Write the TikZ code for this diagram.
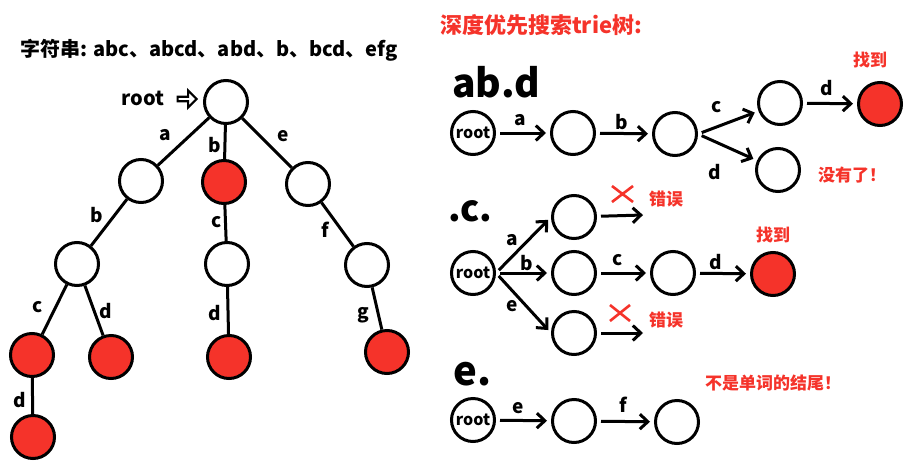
\documentclass[tikz,border=0pt]{standalone}
\usepackage{fontspec}
\setmainfont{Noto Sans CJK SC}
\usetikzlibrary{arrows.meta,shapes.arrows}
\definecolor{TrieRed}{HTML}{F5332A}

\begin{document}
\begin{tikzpicture}[x=1pt,y=-1pt,
    trienode/.style={circle,draw=black,line width=3pt,minimum size=43pt,inner sep=0pt,fill=white},
    wordend/.style={trienode,fill=TrieRed},
    lbl/.style={font=\bfseries\fontsize{19}{19}\selectfont,inner sep=0pt},
    note/.style={font=\bfseries\fontsize{17}{17}\selectfont,text=TrieRed,inner sep=0pt},
    link/.style={line width=3pt},
    walk/.style={line width=3pt,-{Straight Barb[length=8pt,width=15pt]},shorten >=4pt,shorten <=4pt},
    cross/.style={line width=2.6pt,draw=TrieRed}]
\useasboundingbox (0,0) rectangle (908,469);

% Words in the trie
\node[anchor=west,inner sep=0pt,font=\bfseries\fontsize{20}{20}\selectfont] (words) at (20,50) {字符串: abc、abcd、abd、b、bcd、efg};

% Root of the trie
\node[trienode] (root) at (226,102) {};
\node[inner sep=0pt,font=\bfseries\fontsize{20}{20}\selectfont] (roottag) at (143,98) {root};
\node[single arrow,draw,line width=2.2pt,minimum height=19pt,minimum width=17pt,single arrow head extend=3pt,inner sep=0pt] (rootarrow) at (186,99) {};

% Tree nodes
\node[trienode] (ta) at (141,181) {};
\node[wordend] (tb) at (224,182) {};
\node[trienode] (te) at (308,184) {};
\node[trienode] (tab) at (77,264) {};
\node[trienode] (tbc) at (227,264) {};
\node[trienode] (tef) at (367,265) {};
\node[wordend] (tabc) at (32,355) {};
\node[wordend] (tabd) at (111,357) {};
\node[wordend] (tbcd) at (229,357) {};
\node[wordend] (tefg) at (387,352) {};
\node[wordend] (tabcd) at (33,437) {};

% Tree edges
\draw[link] (root) -- (ta);
\draw[link] (root) -- (tb);
\draw[link] (root) -- (te);
\draw[link] (ta) -- (tab);
\draw[link] (tb) -- (tbc);
\draw[link] (te) -- (tef);
\draw[link] (tab) -- (tabc);
\draw[link] (tab) -- (tabd);
\draw[link] (tbc) -- (tbcd);
\draw[link] (tef) -- (tefg);
\draw[link] (tabc) -- (tabcd);

% Edge letters
\node[lbl] (la) at (165,135) {a};
\node[lbl] (lb) at (215,145) {b};
\node[lbl] (le) at (283,136) {e};
\node[lbl] (lab) at (97,215) {b};
\node[lbl] (lbc) at (217,222) {c};
\node[lbl] (lef) at (325,230) {f};
\node[lbl] (labc) at (38,307) {c};
\node[lbl] (labd) at (106,311) {d};
\node[lbl] (lbcd) at (215,313) {d};
\node[lbl] (lefg) at (363,315) {g};
\node[lbl] (labcd) at (20,400) {d};

% Search title
\node[anchor=west,inner sep=0pt,text=TrieRed,font=\bfseries\fontsize{22}{22}\selectfont] (dfstitle) at (440,25) {深度优先搜索trie树:};

% Query ab.d
\node[anchor=base west,inner sep=0pt,font=\bfseries\fontsize{39}{39}\selectfont] (q1) at (452,97) {ab.d};
\node[trienode,font=\bfseries\fontsize{16}{16}\selectfont] (r1) at (473,133) {root};
\node[trienode] (r1a) at (573,133) {};
\node[trienode] (r1ab) at (675,134) {};
\node[trienode] (r1abc) at (780,103) {};
\node[wordend] (r1abcd) at (880,104) {};
\node[trienode] (r1abd) at (778,170) {};
\draw[walk] (r1) -- (r1a);
\draw[walk] (r1a) -- (r1ab);
\draw[walk] (r1ab.east) -- (r1abc);
\draw[walk] (r1ab.east) -- (r1abd);
\draw[walk] (r1abc) -- (r1abcd);
\node[lbl] (q1a) at (520,120) {a};
\node[lbl] (q1b) at (622,122) {b};
\node[lbl] (q1c) at (717,107) {c};
\node[lbl] (q1d) at (827,88) {d};
\node[lbl] (q1d2) at (715,172) {d};
\node[note] (q1found) at (870,60) {找到};
\node[note,anchor=west] (q1none) at (818,175) {没有了！};

% Query .c.
\node[anchor=base west,inner sep=0pt,font=\bfseries\fontsize{36}{36}\selectfont] (q2) at (448,221) {.c.};
\node[trienode,font=\bfseries\fontsize{16}{16}\selectfont] (r2) at (473,273) {root};
\node[trienode] (r2a) at (574,217) {};
\node[trienode] (r2b) at (574,273) {};
\node[trienode] (r2bc) at (673,273) {};
\node[wordend] (r2bcd) at (773,274) {};
\node[trienode] (r2e) at (574,333) {};
\coordinate (r2aend) at (643,215);
\coordinate (r2eend) at (643,333);
\draw[walk] (r2.east) -- (r2a.west);
\draw[walk] (r2.east) -- (r2b);
\draw[walk] (r2.east) -- (r2e.west);
\draw[walk,shorten >=0pt] (r2a) -- (r2aend);
\draw[walk,shorten >=0pt] (r2e) -- (r2eend);
\draw[walk] (r2b) -- (r2bc);
\draw[walk] (r2bc) -- (r2bcd);
\node[lbl] (q2a) at (512,240) {a};
\node[lbl] (q2b) at (527,263) {b};
\node[lbl] (q2c) at (618,260) {c};
\node[lbl] (q2d) at (716,262) {d};
\node[lbl] (q2e) at (512,306) {e};
\draw[cross] (612,186) -- (633,202) (612,202) -- (633,186);
\draw[cross] (610,305) -- (630,321) (610,321) -- (630,305);
\node[note] (q2wrong1) at (666,199) {错误};
\node[note] (q2wrong2) at (666,320) {错误};
\node[note] (q2found) at (773,235) {找到};

% Query e.
\node[anchor=base west,inner sep=0pt,font=\bfseries\fontsize{40}{40}\selectfont] (q3) at (453,385) {e.};
\node[trienode,font=\bfseries\fontsize{16}{16}\selectfont] (r3) at (473,420) {root};
\node[trienode] (r3e) at (574,421) {};
\node[trienode] (r3ef) at (677,422) {};
\draw[walk] (r3) -- (r3e);
\draw[walk] (r3e) -- (r3ef);
\node[lbl] (q3e) at (518,408) {e};
\node[lbl] (q3f) at (623,405) {f};
\node[note,anchor=west] (q3notend) at (705,383) {不是单词的结尾！};
\end{tikzpicture}
\end{document}
